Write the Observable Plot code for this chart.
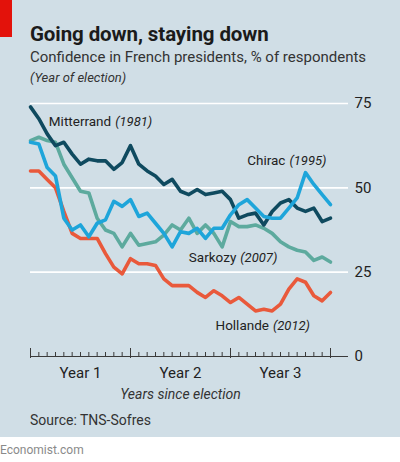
<!DOCTYPE html>
<html><head><meta charset="utf-8">
<script src="https://cdn.jsdelivr.net/npm/d3@7"></script>
<script src="https://cdn.jsdelivr.net/npm/@observablehq/plot@0.6"></script>
<style>
body{margin:0;font-family:Roboto,"Open Sans",sans-serif;}
#wrap{position:relative;width:400px;height:462px;background:#fff;overflow:hidden;}
#panel{position:absolute;left:0;top:0;width:400px;height:437px;background:#d0dee6;}
#redbar{position:absolute;left:0;top:0;width:12px;height:37px;background:#e3120b;}
.t{position:absolute;left:30px;white-space:nowrap;line-height:1;}
#title{top:24px;font-size:20.5px;font-weight:700;color:#1b1b1b;letter-spacing:-0.1px;}
#sub{top:50px;font-size:15px;color:#333;}
#note{top:71px;font-size:13px;font-style:italic;color:#333;}
#chart{position:absolute;left:0;top:88px;}
#source{top:413px;font-size:14px;color:#333;}
#brand{position:absolute;left:0;top:444px;font-size:12px;color:#8a8a8a;line-height:1;}
</style></head>
<body>
<div id="wrap">
  <div id="panel"></div>
  <div id="redbar"></div>
  <div class="t" id="title">Going down, staying down</div>
  <div class="t" id="sub">Confidence in French presidents, % of respondents</div>
  <div class="t" id="note">(Year of election)</div>
  <div id="chart"></div>
  <div class="t" id="source">Source: TNS-Sofres</div>
  <div id="brand">Economist.com</div>
</div>
<script>
const presidents = ["Mitterrand", "Chirac", "Sarkozy", "Hollande"];
const electionYears = ["1981", "1995", "2007", "2012"];
const months = d3.range(0, 37);
const mitterrand = [74, 70.5, 66, 62.5, 63.5, 60, 57, 58.5, 58, 58, 55.5, 57.5, 62.5, 57, 55, 53.5, 51, 52.5, 49, 48, 49.5, 48, 48.5, 49, 46.5, 41, 42, 42.5, 39, 43, 45.5, 46.5, 44, 43, 44, 40, 41];
const chirac = [63.5, 63, 56, 53.5, 41, 37.5, 39, 35.5, 39.5, 40.5, 46, 44.5, 46.5, 41.5, 42.5, 39.5, 36.5, 32.5, 37, 36.5, 38, 35, 38, 38, 42, 45, 46.5, 44, 41.5, 41, 41, 44, 47, 54.5, 51, 48, 45];
const sarkozy = [64, 65, 64, 63.5, 57, 53, 49, 48.5, 41, 37.5, 36.5, 32.5, 36.5, 33, 33.5, 34, 36, 39, 37.5, 41, 36.5, 39, 36.5, 32.5, 40, 38.5, 38.5, 39, 38, 36.5, 34, 32.5, 31.5, 31, 28.5, 29.5, 28];
const hollande = [55, 55, 52.5, 50, 43, 36.5, 35, 35, 35, 30.5, 26.5, 24.5, 29, 27.5, 27.5, 27, 23, 21, 21, 21, 19, 17.5, 19.5, 18, 16, 17.5, 15.5, 13.5, 14, 13.5, 15.5, 20, 23, 22, 18, 16.5, 19];
const yTicks = [0, 25, 50, 75];
const yearTicks = [6, 18, 30];
const yearLabels = ["Year 1", "Year 2", "Year 3"];
const xLabel = "Years since election";

const series = [mitterrand, chirac, sarkozy, hollande];
const rows = [];
presidents.forEach((p, i) => series[i].forEach((v, j) => rows.push({president: p, month: months[j], value: v})));

const colors = ["#0f4a5f", "#1ea5da", "#5daa9e", "#e9593b"];
const labelAt = {Mitterrand: [2.2, 69.5], Chirac: [26, 58], Sarkozy: [19, 29.3], Hollande: [22.2, 9.2]};
const labelRows = presidents.map(p => ({president: p, m: labelAt[p][0], v: labelAt[p][1]}));

const lineOpts = {x: "month", y: "value", stroke: "president", strokeWidth: 3.6, strokeLinejoin: "round", strokeLinecap: "round"};

const plot = Plot.plot({
  width: 400, height: 314,
  marginLeft: 30, marginRight: 70, marginTop: 15, marginBottom: 46,
  style: {background: "transparent", fontFamily: "Roboto, sans-serif", fontSize: "15px", color: "#222"},
  x: {domain: [0, 36], axis: null},
  y: {domain: [0, 75], axis: null},
  color: {domain: presidents, range: colors},
  marks: [
    Plot.ruleY(yTicks.filter(d => d > 0), {stroke: "#fff", strokeWidth: 1.6, insetRight: -18}),
    Plot.line(rows.filter(d => d.president === "Sarkozy"), lineOpts),
    Plot.line(rows.filter(d => d.president === "Hollande"), lineOpts),
    Plot.line(rows.filter(d => d.president === "Mitterrand"), lineOpts),
    Plot.line(rows.filter(d => d.president === "Chirac"), lineOpts),
    Plot.ruleY([0], {stroke: "#3a3a3a", strokeWidth: 1, insetRight: -18}),
    Plot.tickX(months, {x: d => d, stroke: "#3a3a3a", strokeWidth: 1, insetTop: 249}),
    Plot.tickX(months.filter(d => d % 12 === 0), {x: d => d, stroke: "#3a3a3a", strokeWidth: 1, insetTop: 245, insetBottom: -2}),
    Plot.axisY({anchor: "right", ticks: yTicks, tickSize: 0, tickPadding: 24, fontSize: 15, label: null}),
    Plot.axisX({ticks: yearTicks, tickFormat: d => yearLabels[yearTicks.indexOf(d)], tickSize: 0, tickPadding: 11, fontSize: 15, label: null}),
    Plot.text([xLabel], {frameAnchor: "bottom", dy: 42, fontStyle: "italic", fontSize: 14, fill: "#333"}),
    Plot.text(labelRows, {x: "m", y: "v", text: "president", textAnchor: "start", fontSize: 13.5, fill: "#222"})
  ]
});
document.getElementById("chart").appendChild(plot);
d3.select(plot).selectAll("text").filter(function() { return presidents.includes(this.textContent); }).each(function() {
  const i = presidents.indexOf(this.textContent);
  const len = this.getComputedTextLength();
  const c = this.cloneNode(false);
  c.textContent = "(" + electionYears[i] + ")";
  c.setAttribute("font-style", "italic");
  c.setAttribute("font-size", 13);
  c.setAttribute("x", (parseFloat(this.getAttribute("x")) || 0) + len + 4);
  this.parentNode.appendChild(c);
});
</script>
</body></html>
